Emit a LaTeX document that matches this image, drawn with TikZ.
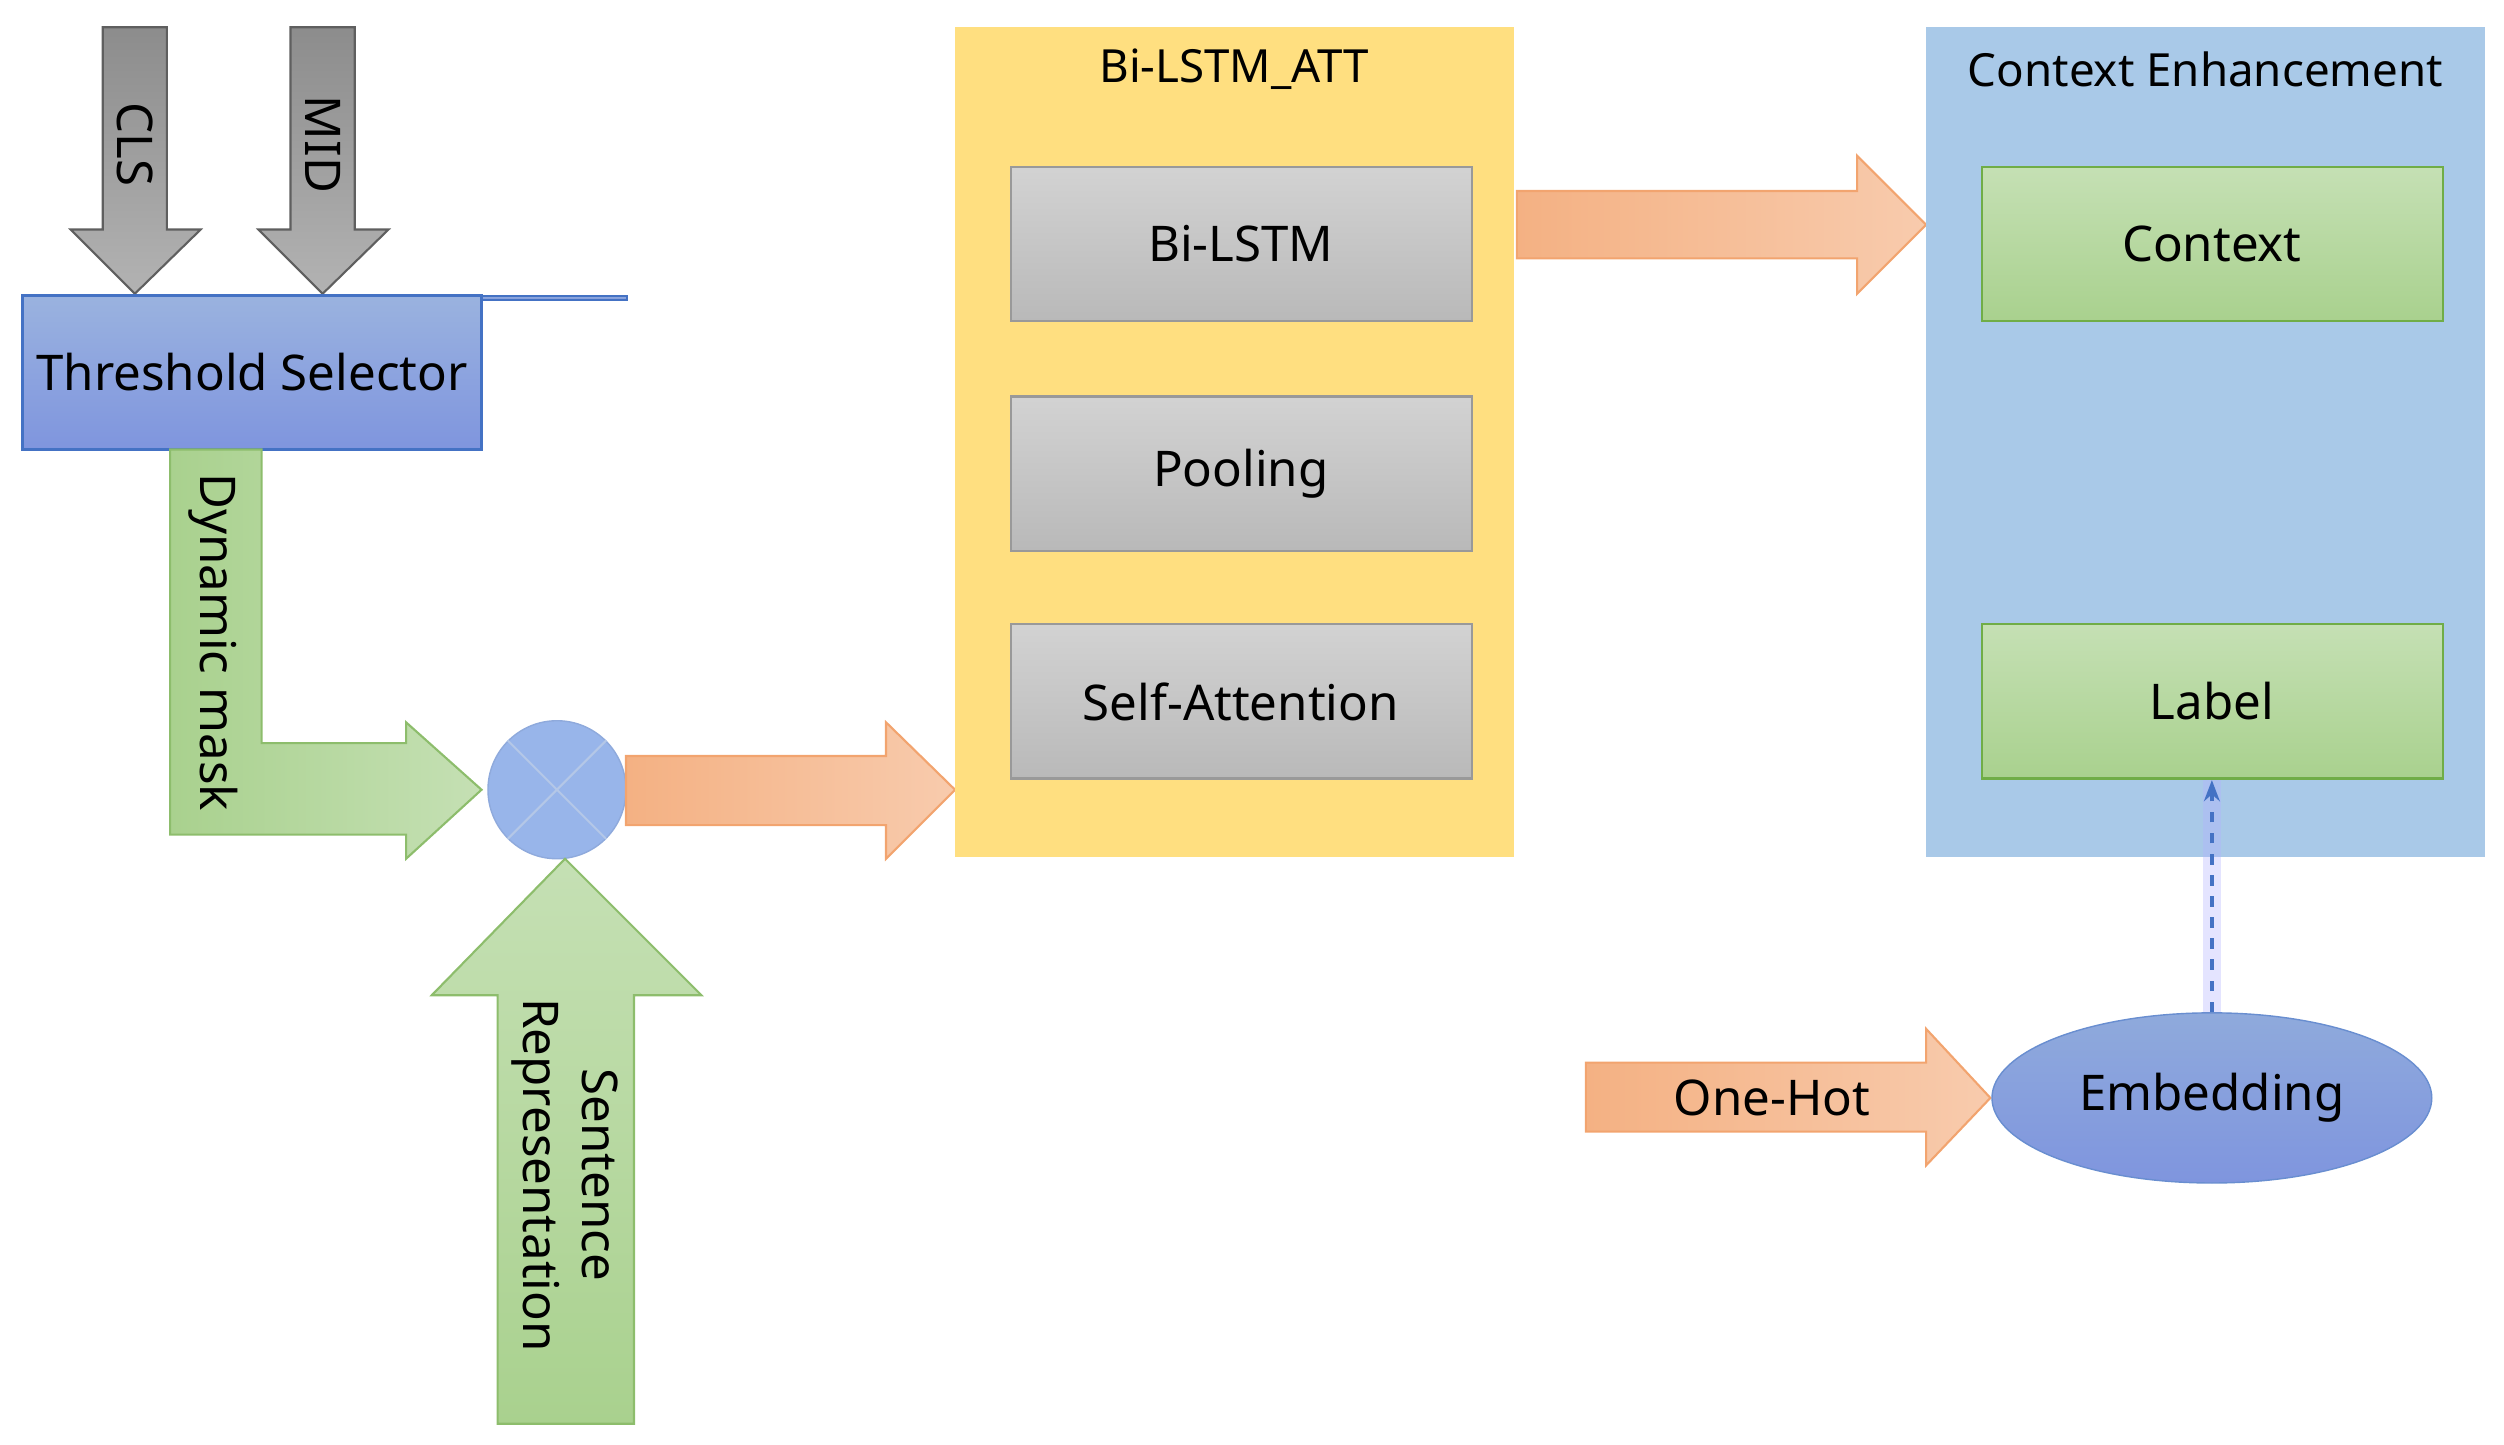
\documentclass[tikz,border=0pt]{standalone}
\usepackage{fontspec}
\setmainfont{Noto Sans}
\usetikzlibrary{shapes.geometric,arrows.meta}
\definecolor{grayA}{HTML}{8C8C8C}\definecolor{grayB}{HTML}{5F5F5F}
\definecolor{orA}{HTML}{F4B183}\definecolor{orB}{HTML}{F8CBAD}\definecolor{orE}{HTML}{ED7D31}
\definecolor{grA}{HTML}{A9D18E}\definecolor{grB}{HTML}{C5E0B4}\definecolor{grE}{HTML}{70AD47}
\definecolor{blA}{HTML}{8FAADC}\definecolor{blB}{HTML}{7F95DE}\definecolor{blE}{HTML}{4472C4}
\definecolor{yel}{HTML}{FFDF80}\definecolor{ltb}{HTML}{A9C9E8}
\tikzset{
 txt/.style={font=\fontsize{14}{17}\selectfont},
 ttl/.style={font=\fontsize{13}{16}\selectfont},
 graybox/.style={draw=gray!80,top color=gray!35,bottom color=gray!55,line width=0.6pt},
 greenbox/.style={draw=grE,top color=grB,bottom color=grA,line width=0.6pt},
 garrow/.style={fill=grayA,draw=grayB,line width=0.6pt},
 oarrow/.style={left color=orA,right color=orB,draw=orE!70,line width=0.6pt},
 grarrow/.style={top color=grA,bottom color=grA!80,draw=grE!80,line width=0.6pt},
}
\begin{document}
\begin{tikzpicture}[x=0.01605cm,y=-0.01605cm]
\useasboundingbox (0,0) rectangle (1560,900);
% CLS / MID
\draw[garrow,top color=gray!90,bottom color=gray!60] (64,17)--(104,17)--(104,143)--(125,143)--(84,183)--(44,143)--(64,143)--cycle;
\node[txt,rotate=-90] (cls) at (84,90) {CLS};
\draw[garrow,top color=gray!90,bottom color=gray!60] (181,17)--(221,17)--(221,143)--(242,143)--(201,183)--(161,143)--(181,143)--cycle;
\node[txt,rotate=-90] (mid) at (201,90) {MID};
% Threshold
\node[draw=blE,top color=blA,bottom color=blB,line width=0.6pt,minimum width=286\pgflinewidth,anchor=north west,inner sep=0,txt] (th) at (14,184) {};
\fill[top color=blA!90,bottom color=blB] (14,184) rectangle (300,280);
\draw[blE,line width=0.8pt] (14,184) rectangle (300,280);
\node[txt] (ths) at (157,232) {Threshold Selector};
% dynamic mask
\draw[grarrow,left color=grA,right color=grB] (106,280)--(163,280)--(163,463)--(253,463)--(253,450)--(300,492)--(253,535)--(253,520)--(106,520)--cycle;
\node[txt,rotate=-90] (dm) at (133,400) {Dynamic mask};
% circle
\node[circle,draw=blE!60,fill=ltb!90!blue,minimum size=86*0.01605cm,inner sep=0] (mul) at (347,492) {};
\draw[blE!40,line width=0.6pt] (mul.north west)--(mul.south east) (mul.north east)--(mul.south west);
% orange arrow to yellow
\draw[oarrow] (390,471)--(552,471)--(552,450)--(595,492)--(552,535)--(552,514)--(390,514)--cycle;
% sentence representation
\draw[grarrow,top color=grB,bottom color=grA] (310,887)--(310,620)--(269,620)--(352,535)--(437,620)--(395,620)--(395,887)--cycle;
\node[txt,rotate=-90,align=center] (sr) at (352,732) {Sentence\\Representation};
% yellow box
\fill[yel] (595,17) rectangle (943,534);
\node[ttl] (t1) at (769,43) {Bi-LSTM\_ATT};
\draw[graybox] (630,104) rectangle (917,200);
\node[txt] (b1) at (773,152) {Bi-LSTM};
\draw[graybox] (630,247) rectangle (917,343);
\node[txt] (b2) at (773,295) {Pooling};
\draw[graybox] (630,389) rectangle (917,485);
\node[txt] (b3) at (773,437) {Self-Attention};
% orange arrow top
\draw[oarrow] (945,119)--(1157,119)--(1157,97)--(1200,140)--(1157,183)--(1157,161)--(945,161)--cycle;
% blue box
\fill[ltb] (1200,17) rectangle (1548,534);
\node[ttl] (t2) at (1374,43) {Context Enhancement};
\draw[greenbox] (1235,104) rectangle (1522,200);
\node[txt] (ctx) at (1378,152) {Context};
\draw[greenbox] (1235,389) rectangle (1522,485);
\node[txt] (lab) at (1378,437) {Label};
\coordinate (labb) at (1378,486);
% one-hot
\draw[oarrow] (988,662)--(1200,662)--(1200,641)--(1240,684)--(1200,726)--(1200,705)--(988,705)--cycle;
\node[txt] (oh) at (1104,684) {One-Hot};
% embedding
\node[ellipse,draw=blE!80,top color=blA,bottom color=blB,minimum width=274*0.01605cm,minimum height=106*0.01605cm,txt] (emb) at (1378,684) {Embedding};
% dashed
\draw[white!70!blue,line width=5pt,opacity=0.35] (emb.north)--(labb);
\draw[blE,dashed,line width=1pt,-{Stealth[length=6pt]}] (emb.north)--(labb);
\end{tikzpicture}
\end{document}
